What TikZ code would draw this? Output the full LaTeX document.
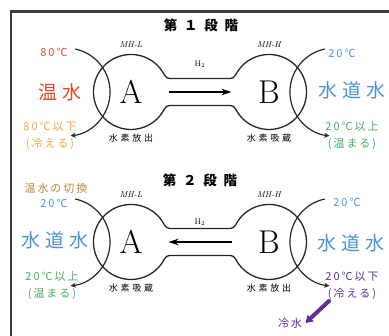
\documentclass[tikz,border=0pt]{standalone}
\usepackage{fontspec}
\usepackage{tikz}
\usetikzlibrary{arrows.meta,positioning,calc}
\newfontfamily\jp[LetterSpace=30]{Noto Sans CJK JP}
\newfontfamily\jptemp[LetterSpace=18]{Noto Sans CJK JP}
\newfontfamily\jpbig[LetterSpace=25]{Noto Sans CJK JP}
\newfontfamily\jphead[LetterSpace=50]{Noto Sans CJK JP}
\definecolor{hotred}{HTML}{E5472B}
\definecolor{warmorange}{HTML}{F3A443}
\definecolor{tapblue}{HTML}{4C93D8}
\definecolor{warmgreen}{HTML}{45AE62}
\definecolor{coolpurple}{HTML}{5E2F98}
\definecolor{switchbrown}{HTML}{BC873A}
\definecolor{framegray}{HTML}{3C3C3C}
\tikzset{
  tank/.style  ={circle,minimum size=75pt,inner sep=0pt,outer sep=0pt,
                 font=\fontsize{33}{33}\selectfont},
  shell/.style ={line width=1.3pt,draw=black!85},
  coil/.style  ={-{Stealth[length=5pt,width=5pt]},line width=1.2pt,draw=black!85},
  flow/.style  ={-{Stealth[length=10pt,width=6.5pt]},line width=1.6pt},
  mhtag/.style ={font=\fontsize{8.5}{9}\selectfont\itshape},
  gas/.style   ={font=\fontsize{8}{9}\selectfont},
  state/.style ={font=\jp\fontsize{9}{10}\selectfont},
  temp/.style  ={font=\jptemp\fontsize{11}{17}\selectfont,align=center},
  water/.style ={font=\jpbig\fontsize{19}{20}\selectfont},
  stage/.style ={font=\jphead\bfseries\fontsize{13.5}{14}\selectfont},
  frame/.style ={line width=2.6pt,draw=framegray},
  chill/.style ={-{Triangle[length=7pt,width=8.5pt]},line width=4pt,
                 draw=coolpurple,line cap=round}
}
% outline of a pair of tanks joined by the pipe (#1 = left tank)
\newcommand{\mhshell}[1]{%
  \draw[shell] ($(#1)+(38.88pt,13.5pt)$) -- ++(60.24pt,0pt)
    arc[start angle=270,end angle=333.4,radius=6pt]
    arc[start angle=153.4,end angle=-153.4,radius=37.5pt]
    arc[start angle=26.6,end angle=90,radius=6pt]
    -- ++(-60.24pt,0pt)
    arc[start angle=90,end angle=153.4,radius=6pt]
    arc[start angle=-26.6,end angle=-333.4,radius=37.5pt]
    arc[start angle=206.6,end angle=270,radius=6pt] -- cycle;}

\begin{document}
\begin{tikzpicture}[x=1pt,y=1pt]
  \useasboundingbox (0,0) rectangle (389,336);
  \draw[frame] (11,-5) |- (395,324.5);

  % stage 1: hot water in A, hydrogen over to B
  \node[stage] (stage1) at (201,311) {第１段階};
  \node[tank] (A1) at (131,244) {A};
  \node[tank] (B1) at (269,244) {B};
  \mhshell{A1}
  \node[mhtag,above=3pt of A1] (mhl1) {MH-L};
  \node[mhtag,above=3pt of B1] (mhh1) {MH-H};
  \node[state,below=1pt of A1] (rel1) {水素放出};
  \node[state,below=1pt of B1] (abs1) {水素吸蔵};
  \node[gas] (h2a) at (200,272) {H$_2$};
  \draw[flow] (A1) -- (B1);
  \coordinate (coilA1) at (75.2,287);
  \coordinate (coilB1) at (324.8,287);
  \draw[coil] (coilA1) arc[start angle=78,end angle=-84,radius=44pt];
  \draw[coil] (coilB1) arc[start angle=102,end angle=264,radius=44pt];
  \node[temp,text=hotred] (hotin) at (54,284) {80℃};
  \node[water,text=hotred] (hotw) at (60,244) {温水};
  \node[temp,text=warmorange] (hotout) at (50,200.5) {80℃以下\\(冷える)};
  \node[temp,text=tapblue] (tapin1) at (342,283) {20℃};
  \node[water,text=tapblue] (tapw1) at (352,246) {水道水};
  \node[temp,text=warmgreen] (tapout1) at (352,200) {20℃以上\\(温まる)};

  % stage 2: tap water on both sides, hydrogen back to A
  \node[stage] (stage2) at (200,156) {第２段階};
  \node[tank] (A2) at (131,94) {A};
  \node[tank] (B2) at (269,94) {B};
  \mhshell{A2}
  \node[mhtag,above=3pt of A2] (mhl2) {MH-L};
  \node[mhtag,above=3pt of B2] (mhh2) {MH-H};
  \node[state,below=1pt of A2] (abs2) {水素吸蔵};
  \node[state,below=1pt of B2] (rel2) {水素放出};
  \node[gas] (h2b) at (200,114) {H$_2$};
  \draw[flow] (B2) -- (A2);
  \coordinate (coilA2) at (75.2,137);
  \coordinate (coilB2) at (324.8,137);
  \draw[coil] (coilA2) arc[start angle=78,end angle=-84,radius=44pt];
  \draw[coil] (coilB2) arc[start angle=102,end angle=264,radius=44pt];
  \node[temp,text=switchbrown] (switch) at (56,148) {温水の切換};
  \node[temp,text=tapblue] (tapin2) at (54,133) {20℃};
  \node[water,text=tapblue] (tapw2) at (55,96) {水道水};
  \node[temp,text=warmgreen] (tapout2) at (52,50) {20℃以上\\(温まる)};
  \node[temp,text=tapblue] (tapin3) at (347,134) {20℃};
  \node[water,text=tapblue] (tapw3) at (351,93) {水道水};
  \node[temp,text=coolpurple] (tapout3) at (352,50) {20℃以下\\(冷える)};
  \node[temp,text=coolpurple] (cold) at (290,13) {冷水};
  \coordinate (chillstart) at (329,35);
  \draw[chill] (chillstart) -- (cold.east);
\end{tikzpicture}
\end{document}
